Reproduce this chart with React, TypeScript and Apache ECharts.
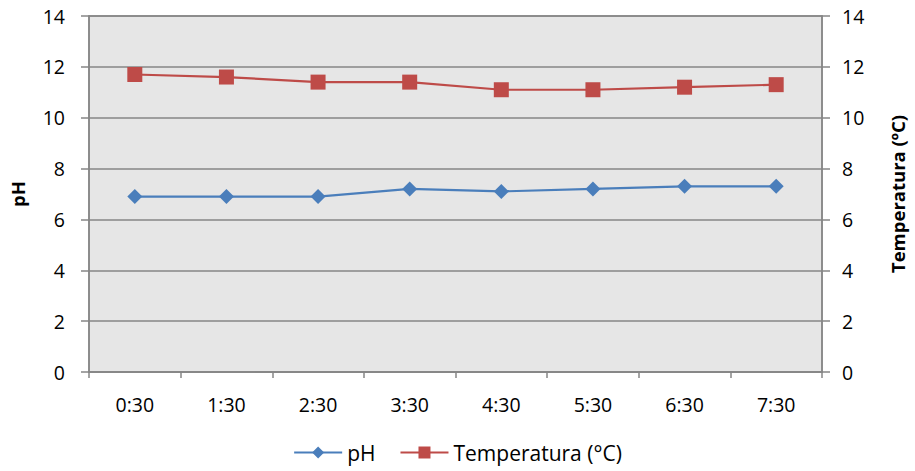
import React, { useEffect, useRef } from "react";
import * as echarts from "echarts";

const categories = ["0:30", "1:30", "2:30", "3:30", "4:30", "5:30", "6:30", "7:30"];
const phValues = [6.9, 6.9, 6.9, 7.2, 7.1, 7.2, 7.3, 7.3];
const tempValues = [11.7, 11.6, 11.4, 11.4, 11.1, 11.1, 11.2, 11.3];

const FONT = "'Open Sans', 'Liberation Sans', sans-serif";

export default function App() {
  const ref = useRef<HTMLDivElement>(null);
  useEffect(() => {
    document.body.style.margin = "0";
    const chart = echarts.init(ref.current!, null, { renderer: "svg" });
    const yAxisCommon = {
      type: "value",
      min: 0,
      max: 14,
      interval: 2,
      axisLine: { show: true, lineStyle: { color: "#868686", width: 1.5 } },
      axisTick: { show: true, length: 8, lineStyle: { color: "#868686", width: 1.5 } },
      axisLabel: { color: "#000", fontSize: 19.5, fontFamily: FONT },
      nameLocation: "middle",
      nameTextStyle: { color: "#000", fontSize: 18.5, fontWeight: "bold", fontFamily: FONT },
    };
    chart.setOption({
      animation: false,
      backgroundColor: "#fff",
      grid: {
        left: 88,
        right: 86,
        top: 16,
        bottom: 99,
        show: true,
        backgroundColor: "#e6e6e6",
        borderColor: "#868686",
        borderWidth: 1.5,
      },
      legend: {
        bottom: 3,
        left: "center",
        itemWidth: 48,
        itemHeight: 15,
        itemGap: 24,
        textStyle: { color: "#000", fontSize: 21, fontFamily: FONT },
        data: ["pH", "Temperatura (°C)"],
      },
      xAxis: {
        type: "category",
        data: categories,
        boundaryGap: true,
        axisLine: { show: true, lineStyle: { color: "#868686", width: 1.5 } },
        axisTick: { show: true, length: 6, alignWithLabel: false, lineStyle: { color: "#868686", width: 1.5 } },
        axisLabel: { color: "#000", fontSize: 19.5, fontFamily: FONT, margin: 22 },
      },
      yAxis: [
        {
          ...yAxisCommon,
          position: "left",
          name: "pH",
          nameGap: 62,
          axisLabel: { ...yAxisCommon.axisLabel, margin: 24 },
          splitLine: { show: true, lineStyle: { color: "#868686", width: 1.5 } },
        },
        {
          ...yAxisCommon,
          position: "right",
          name: "Temperatura (ºC)",
          nameGap: 66,
          nameRotate: 90,
          axisLabel: { ...yAxisCommon.axisLabel, margin: 20 },
          splitLine: { show: false },
        },
      ],
      series: [
        {
          name: "pH",
          type: "line",
          yAxisIndex: 0,
          data: phValues,
          symbol: "diamond",
          symbolSize: 15,
          itemStyle: { color: "#4a7ebb" },
          lineStyle: { color: "#4a7ebb", width: 2.2 },
        },
        {
          name: "Temperatura (°C)",
          type: "line",
          yAxisIndex: 1,
          data: tempValues,
          symbol: "rect",
          symbolSize: 15,
          itemStyle: { color: "#be4b48" },
          lineStyle: { color: "#be4b48", width: 2.2 },
        },
      ],
    });
    return () => chart.dispose();
  }, []);
  return <div ref={ref} style={{ width: 915, height: 471 }} />;
}
